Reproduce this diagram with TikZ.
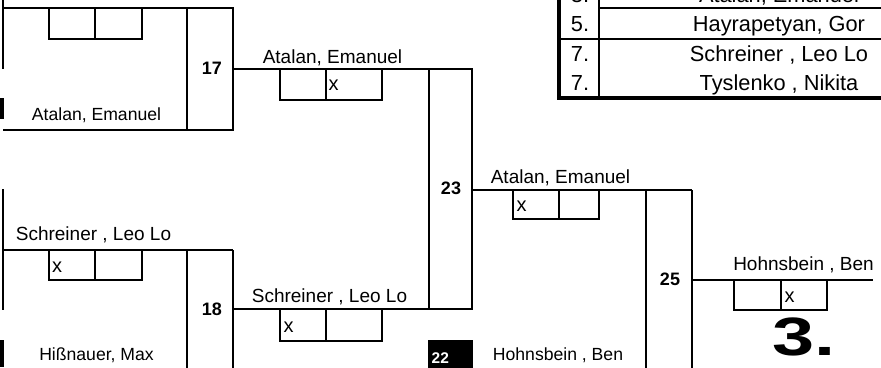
\documentclass[tikz,border=0pt]{standalone}
\usepackage{fontspec}
\setmainfont{Liberation Sans}
\begin{document}
\begin{tikzpicture}[x=1pt,y=-1pt,
  ln/.style={line width=1.8pt},
  thick2/.style={line width=3.4pt},
  toplbl/.style={anchor=base,inner sep=0pt,font=\fontsize{19}{22}\selectfont},
  botlbl/.style={anchor=base,inner sep=0pt,font=\fontsize{17.6}{20}\selectfont},
  numlbl/.style={anchor=base,inner sep=0pt,font=\fontsize{18}{20}\selectfont\bfseries},
  xlbl/.style={anchor=base west,inner sep=0pt,font=\fontsize{20}{22}\selectfont},
  tbl/.style={anchor=base,inner sep=0pt,font=\fontsize{21.8}{24}\selectfont}]
\clip (0,0) rectangle (881,367);
\useasboundingbox (0,0) rectangle (881,367);
% named coordinates
\coordinate (m17) at (233,69);
\coordinate (m23in) at (472,69);
\coordinate (m18) at (233,309);
\coordinate (m23b) at (472,309);
\coordinate (m23) at (472,190);
\coordinate (m25in) at (692,190);
\coordinate (m25) at (692,280);
\coordinate (fin) at (873,280);
% --- top-left (match 17)
\draw[ln] (3,0) -- (3,69);
\draw[ln] (3,8) -- (233,8);
\draw[ln] (3,130) -- (233,130);
\draw[ln] (49,8) rectangle (142,39); \draw[ln] (95,8) -- (95,39);
\draw[ln] (187,8) rectangle (233,130);
\fill (0,98) rectangle (3.5,119);
\node[numlbl] (n17) at (212,74.5) {17};
\node[botlbl] (p17b) at (96.5,120.7) {Atalan, Emanuel};
% --- lower-left (match 18)
\draw[ln] (3,189) -- (3,310);
\draw[ln] (3,250) -- (233,250);
\draw[ln] (49,250) rectangle (142,280); \draw[ln] (95,250) -- (95,280);
\draw[ln] (187,250) -- (187,370);
\draw[ln] (233,250) -- (233,370);
\fill (0,340) rectangle (4,367);
\node[toplbl] (p18t) at (93.5,240.7) {Schreiner , Leo Lo};
\node[xlbl] (x18) at (52,272) {x};
\node[numlbl] (n18) at (212,315.5) {18};
\node[botlbl] (p18b) at (96.5,360.7) {Hißnauer, Max};
% --- connectors into match 23
\draw[ln] (m17) -- (m23in);
\draw[ln] (m18) -- (m23b);
\draw[ln] (429,69) rectangle (472,309);
\draw[ln] (280,69) rectangle (382,100); \draw[ln] (326,69) -- (326,100);
\draw[ln] (280,309) rectangle (382,341); \draw[ln] (326,309) -- (326,341);
\node[toplbl] (w17) at (332.5,63.5) {Atalan, Emanuel};
\node[xlbl] (x17) at (328.5,90.5) {x};
\node[toplbl] (w18) at (329.5,302.7) {Schreiner , Leo Lo};
\node[xlbl] (x18b) at (283.5,332) {x};
\node[numlbl] (n23) at (451,194.5) {23};
% --- match 22 (black)
\fill (428,340) rectangle (473,370);
\node[text=white,inner sep=0pt,anchor=base west,font=\fontsize{15.5}{17}\selectfont\bfseries] (n22) at (431.5,363.5) {22};
\node[botlbl] (p22b) at (558,360.7) {Hohnsbein , Ben};
% --- into match 25
\draw[ln] (m23) -- (m25in);
\draw[ln] (646,190) -- (646,370);
\draw[ln] (692,190) -- (692,370);
\draw[ln] (513,190) rectangle (599,219); \draw[ln] (559,190) -- (559,219);
\node[toplbl] (w23) at (560.5,183.3) {Atalan, Emanuel};
\node[xlbl] (x23) at (516.5,211) {x};
\node[numlbl] (n25) at (670,285.5) {25};
% --- final
\draw[ln] (m25) -- (fin);
\draw[ln] (734,280) rectangle (827,310); \draw[ln] (781,280) -- (781,310);
\node[toplbl] (w25) at (803.5,270.7) {Hohnsbein , Ben};
\node[xlbl] (x25) at (784.5,302) {x};
\node[inner sep=0pt,anchor=base,xscale=1.4,font=\fontsize{54}{60}\selectfont\bfseries] (place) at (804,355.5) {3.};
% --- table
\draw[line width=2.2pt] (599,8) -- (890,8);
\draw[ln] (558,39) -- (890,39);
\draw[ln] (599,-5) -- (599,98);
\draw[thick2] (559,-5) -- (559,98);
\draw[thick2] (557.3,98) -- (890,98);
\node[tbl] (r3) at (580,2) {3.};
\node[tbl] (r3n) at (779,2) {Atalan, Emanuel};
\node[tbl] (r5) at (580,31.7) {5.};
\node[tbl] (r5n) at (779,31.7) {Hayrapetyan, Gor};
\node[tbl] (r7a) at (580,61.7) {7.};
\node[tbl] (r7an) at (779,61.7) {Schreiner , Leo Lo};
\node[tbl] (r7b) at (580,90.7) {7.};
\node[tbl] (r7bn) at (779,90.7) {Tyslenko , Nikita};
\end{tikzpicture}
\end{document}
